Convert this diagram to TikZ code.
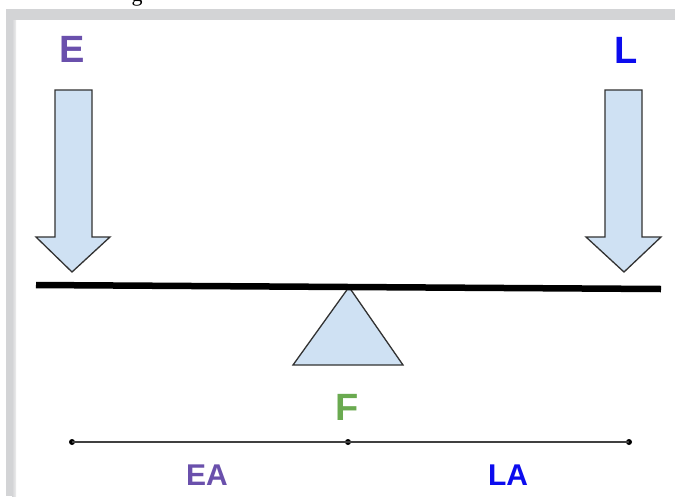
\documentclass[tikz,border=0pt]{standalone}
\usepackage{fontspec}
\setmainfont{Liberation Sans}
\newfontfamily\seriffont{Liberation Serif}
\definecolor{effortpurple}{RGB}{106,80,172}
\definecolor{loadblue}{RGB}{12,12,238}
\definecolor{fulcrumgreen}{RGB}{106,170,80}
\definecolor{partfill}{RGB}{207,225,243}
\definecolor{partedge}{RGB}{50,50,50}
\definecolor{framegray}{RGB}{211,212,214}
\begin{document}
\begin{tikzpicture}[x=1pt,y=-1pt,
  lbl/.style={inner sep=0pt,anchor=base,font=\bfseries\fontsize{38}{38}\selectfont},
  armlbl/.style={inner sep=0pt,anchor=base,font=\bfseries\fontsize{30}{30}\selectfont},
  forcearrow/.style={fill=partfill,draw=partedge,line width=1.3pt,line join=miter},
  pivot/.style={fill=partfill,draw=partedge,line width=1.3pt},
  beam/.style={line width=6.5pt,line cap=butt},
  dimline/.style={line width=1.6pt,draw=black!75},
  dimdot/.style={circle,fill=black,inner sep=0pt,minimum size=6pt}]
  \useasboundingbox (0,0) rectangle (675,496);
  \clip (0,0) rectangle (675,496);
  \fill[white] (0,0) rectangle (675,496);

  % frame of the slide
  \fill[framegray] (6,9) rectangle (675,20);
  \fill[framegray] (6,9) rectangle (16,496);
  \shade[left color=framegray,right color=framegray!40] (12,20) rectangle (16,496);

  % tail of a caption line above the frame
  \node[inner sep=0pt,anchor=base,font=\seriffont\fontsize{22}{22}\selectfont] (caption) at (137,1) {g};

  % effort arrow
  \coordinate (etip) at (72,272);
  \draw[forcearrow] (55,90) -- (92,90) -- (92,237) -- (110,237) -- (etip) -- (36,237) -- (55,237) -- cycle;
  % load arrow
  \coordinate (ltip) at (624,272);
  \draw[forcearrow] (605,90) -- (642,90) -- (642,237) -- (661,237) -- (ltip) -- (586,237) -- (605,237) -- cycle;

  % fulcrum
  \coordinate (apex) at (349,287);
  \draw[pivot] (apex) -- (403,365) -- (293,365) -- cycle;

  % lever bar
  \coordinate (barL) at (36,285);
  \coordinate (barR) at (661,289);
  \draw[beam] (barL) -- (barR);

  % labels
  \node[lbl,text=effortpurple] (E) at (72,62) {E};
  \node[lbl,text=loadblue] (L) at (626,63) {L};
  \node[lbl,text=fulcrumgreen] (F) at (347,420) {F};

  % arm lengths
  \node[dimdot] (d1) at (72,442) {};
  \node[dimdot] (d2) at (348,442) {};
  \node[dimdot] (d3) at (629,442) {};
  \draw[dimline] (d1.center) -- (d2.center) -- (d3.center);
  \node[armlbl,text=effortpurple] (EA) at (207,485) {EA};
  \node[armlbl,text=loadblue] (LA) at (508,485) {LA};
\end{tikzpicture}
\end{document}
